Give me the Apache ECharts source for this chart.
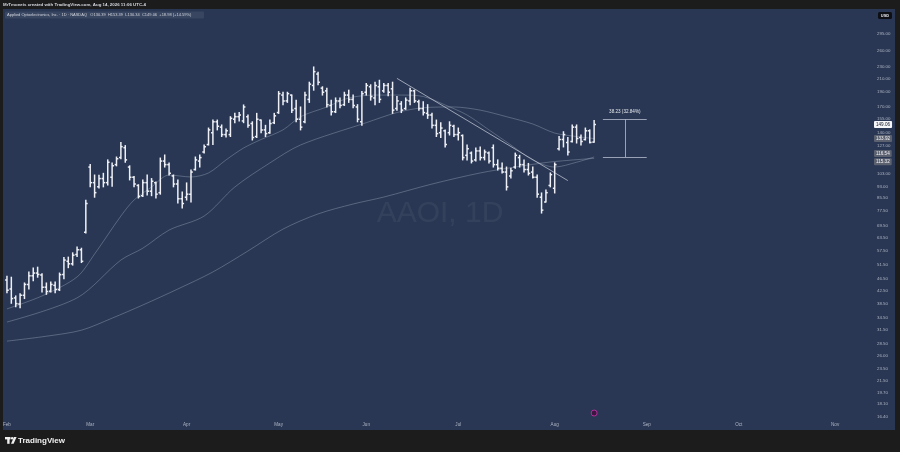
<!DOCTYPE html>
<html><head><meta charset="utf-8">
<script src="https://cdn.jsdelivr.net/npm/echarts@6/dist/echarts.min.js"></script>
<style>html,body{margin:0;padding:0;background:#1c1c1c;}#c{width:900px;height:452px;}</style>
</head><body><div id="c"></div>
<script>
// ---------- categories (NYSE trading days) ----------
const startDate = [2026, 1, 2];            // 2026-02-02
const categoryCount = 197;
const holidays = ['2026-02-16','2026-04-03','2026-05-25','2026-06-19','2026-07-03','2026-09-07'];
const monthNames = ['Jan','Feb','Mar','Apr','May','Jun','Jul','Aug','Sep','Oct','Nov','Dec'];

// ---------- OHLC values ----------
const opens  = [46.0,43.0,40.2,38.4,41.0,44.5,47.5,48.5,47.8,43.6,42.3,44.2,42.8,48.0,53.0,52.0,55.8,57.8,66.0,108.0,
  96.0,93.0,99.0,96.0,100.0,110.0,116.0,125.0,108.0,100.0,94.0,87.0,96.0,90.0,96.0,89.0,113.0,110.0,101.0,95.0,
  85.0,86.0,88.0,106.0,113.0,121.0,128.0,140.0,152.0,146.0,138.0,138.0,155.0,158.0,153.0,158.0,150.0,136.0,154.0,143.0,
  140.0,151.0,163.0,186.0,178.0,186.0,168.0,155.0,152.0,180.0,200.0,218.0,196.0,192.0,172.0,164.0,178.0,173.0,186.0,180.0,
  170.0,152.0,190.0,198.0,182.0,198.0,192.0,200.0,195.0,168.0,174.0,168.0,178.0,192.0,177.0,168.0,162.0,160.0,148.0,140.0,
  142.0,140.0,147.0,138.0,137.0,118.0,120.0,114.0,122.0,116.0,120.0,125.0,110.0,107.0,104.0,101.0,108.0,116.0,110.0,106.0,
  104.0,100.0,86.0,83.0,94.0,92.0,124.0,133.0,130.0,131.0,146.0,135.0,133.0,142.0,130.39];
const highs  = [47.3,47.0,40.8,41.5,45.0,48.9,50.4,50.7,48.2,45.0,45.3,45.3,48.5,54.5,54.7,56.5,59.0,58.5,84.0,110.0,
  101.7,101.5,103.0,114.0,111.4,116.5,130.0,127.0,109.0,100.5,94.5,98.0,101.7,99.0,96.5,115.6,118.3,111.4,101.7,98.0,
  89.4,95.8,105.6,116.5,118.3,127.6,145.0,154.0,154.0,148.4,144.0,158.0,162.0,163.0,172.6,160.0,152.0,162.0,154.0,148.0,
  154.0,162.0,191.0,190.0,190.0,186.0,179.0,170.0,190.0,205.0,230.0,221.0,198.0,196.0,179.0,182.0,182.0,190.0,193.0,186.0,
  173.0,191.0,203.0,201.0,205.0,208.0,203.0,203.0,205.0,184.0,177.0,182.0,196.0,193.0,179.0,177.0,173.0,162.0,154.0,151.0,
  143.0,152.0,148.0,145.0,137.6,127.6,121.0,124.7,125.7,122.8,121.0,127.6,114.0,111.4,108.0,107.0,120.0,118.0,114.0,111.0,
  108.0,101.7,88.8,90.8,103.3,111.4,136.0,141.0,135.0,148.4,148.4,137.6,145.0,143.0,153.39];
const lows   = [41.8,38.6,37.6,37.3,40.0,43.0,45.8,47.0,42.0,41.3,42.0,41.8,42.5,46.5,50.5,51.5,55.0,52.5,65.6,93.0,
  86.0,92.2,93.0,94.3,93.5,109.0,115.0,112.0,98.0,93.0,85.5,86.5,87.5,87.0,85.5,88.0,108.0,101.7,93.0,82.3,
  79.3,84.2,83.0,105.6,108.0,120.0,127.6,128.0,143.0,136.0,135.5,136.0,151.0,153.0,151.0,146.0,132.5,135.0,140.0,136.0,
  139.5,150.0,162.0,173.0,176.0,163.0,152.0,143.0,151.0,176.0,193.0,201.0,186.0,170.0,160.0,163.0,169.0,172.0,176.0,169.0,
  152.0,148.0,186.0,179.0,173.0,176.0,190.0,185.0,162.0,166.0,163.0,167.0,173.0,176.0,166.0,160.0,156.0,145.0,136.0,135.0,
  125.7,137.6,136.0,132.5,114.0,114.0,111.4,113.0,114.0,114.0,111.4,108.0,105.6,103.3,90.8,99.5,107.0,108.0,104.0,101.7,
  99.5,86.0,76.3,82.9,93.0,88.8,122.8,125.7,118.3,130.5,129.5,127.6,132.5,129.6,130.34];
const closes = [42.6,40.0,38.5,41.0,44.5,47.5,48.5,48.0,43.6,42.2,44.5,42.8,47.9,53.5,52.0,55.5,57.8,53.0,82.0,96.0,
  89.0,99.0,96.0,112.0,109.0,115.0,126.0,114.0,100.0,95.0,86.5,96.0,90.0,97.0,88.0,113.0,110.0,103.0,95.0,85.0,
  82.0,88.0,104.0,114.0,116.0,126.0,143.0,152.0,147.0,138.0,142.0,156.0,158.0,160.0,170.0,148.0,135.0,155.0,143.0,139.0,
  150.0,159.0,188.0,178.0,188.0,166.0,155.0,146.0,186.0,202.0,222.0,205.0,190.0,173.0,164.0,178.0,172.0,186.0,180.0,172.0,
  155.0,188.0,200.0,184.0,200.0,180.0,200.0,190.0,166.0,178.0,166.0,179.0,192.0,178.0,168.0,163.0,160.0,148.0,139.0,145.0,
  128.0,148.0,138.0,140.0,116.0,124.0,113.0,122.0,116.0,121.0,113.0,110.0,107.0,104.0,93.0,105.0,118.0,110.0,106.0,103.0,
  100.0,88.0,78.0,89.0,102.0,110.0,133.0,138.0,121.0,146.0,134.0,131.0,142.0,130.08,149.06];

// ---------- moving averages: [category index, price] ----------
const ma20 = [[0,37],[8,40.8],[16,47.1],[20,56],[26,74.6],[29,84.2],[33,92.9],[37,101.7],[42,100.2],[46,103.3],[50,114],
  [54,124.7],[58,133],[63,143],[67,158],[73,170],[78,182],[84,186],[90,186],[95,184],[100,172.6],[105,160],[110,143],
  [115,127.6],[120,113.9],[125,108],[130,112],[134,116.54]];
const ma50 = [[0,33.5],[16,40.2],[26,53.5],[31,58.5],[37,67.1],[45,74.6],[52,92.9],[60,111.4],[67,127.6],
  [82,151],[89,163],[95,169],[102,170],[108,166],[114,158],[120,149.5],[125,139.6],[130,136],[134,133.92]];
const ma200 = [[0,29.0],[9,30.1],[17,31.5],[24,34.5],[31,38.1],[39,43.0],[47,48.9],[55,57.3],[63,67.6],[71,75.8],
  [79,81.7],[86,86.1],[97,95.0],[108,103.3],[116,108.0],[124,112.2],[134,115.32]];
const trendLine = [[89,211],[128,97.5]];

// ---------- price axis labels / tags ----------
const priceTicks = [295,260,230,210,190,170,155,140,127,103,93,85.5,77.5,69.5,63.5,57.5,51.5,46.5,42.5,38.5,34.5,31.5,28.5,26,23.5,21.5,19.7,18.1,16.4];
const lastClose = 149.06;
const ma50Last = 133.92, ma20Last = 116.54, ma200Last = 115.32;
const measureLow = 116.41, measureHigh = 154.64, measureStart = 136, measureEnd = 146, measureMid = 141;
const measureText = '38.23 (32.84%)';
const eventIndex = 134, eventPrice = 16.85;
const yMin = 16.108, yMax = 356.3;

const titleTop = 'MrTmoneis created with TradingView.com, Aug 14, 2026 11:06 UTC-4';
const titleSymbol = 'Applied Optoelectronics, Inc. · 1D · NASDAQ   O130.39  H153.39  L130.34  C149.06  +18.98 (+14.59%)';
const watermark = 'AAOI, 1D';

// build trading-day categories
const dates = [];
{
  let d = new Date(Date.UTC(startDate[0], startDate[1], startDate[2]));
  while (dates.length < categoryCount) {
    const wd = d.getUTCDay();
    const iso = d.toISOString().slice(0,10);
    if (wd !== 0 && wd !== 6 && holidays.indexOf(iso) < 0) dates.push(iso);
    d = new Date(d.getTime() + 86400000);
  }
}
const monthStart = dates.map((s,i) => i === 0 || s.slice(5,7) !== dates[i-1].slice(5,7));

const ohlc = closes.map((c,i) => [i, opens[i], highs[i], lows[i], c]);

const BAR = '#eef0f5';
function renderBar(params, api) {
  const i = api.value(0);
  const o = api.coord([i, api.value(1)]);
  const h = api.coord([i, api.value(2)]);
  const l = api.coord([i, api.value(3)]);
  const c = api.coord([i, api.value(4)]);
  const w = params.coordSys.width / categoryCount * 0.42;
  const st = {stroke: BAR, lineWidth: 1.5};
  return {type:'group', children:[
    {type:'line', shape:{x1:h[0], y1:h[1]-0.5, x2:l[0], y2:l[1]+0.5}, style:st},
    {type:'line', shape:{x1:o[0]-w, y1:o[1], x2:o[0], y2:o[1]}, style:st},
    {type:'line', shape:{x1:c[0], y1:c[1], x2:c[0]+w, y2:c[1]}, style:st}
  ]};
}

const LBL = '#aeb4c2';
const MA_STYLE = {color:'rgba(175,185,205,0.36)', width:1};
const HIDDEN_LINE = {color:'rgba(0,0,0,0)', width:0.01, opacity:1};
const tagLabel = (bg, fg, va) => ({show:true, position:'end', distance:6, formatter: p => Number(p.value).toFixed(2),
  backgroundColor:bg, color:fg, fontSize:4.6, padding:[1,2,1,2], borderRadius:1, verticalAlign: va, fontFamily:'Liberation Sans'});

const option = {
  animation: false,
  backgroundColor: '#1c1c1c',
  grid: {left: 3, right: 32, top: 9, bottom: 33},
  xAxis: {
    type:'category', data: dates, boundaryGap: true,
    axisLine:{show:false}, axisTick:{show:false}, splitLine:{show:false},
    axisLabel:{interval:(idx) => monthStart[idx], formatter:(v) => monthNames[+v.slice(5,7)-1],
      color: LBL, fontSize: 4.6, margin: 3, fontFamily:'Liberation Sans'}
  },
  yAxis: {
    type:'log', logBase: 10, min: yMin, max: yMax, position:'right',
    axisLine:{show:false}, axisTick:{show:false}, axisLabel:{show:false}, splitLine:{show:false}
  },
  graphic: [
    {type:'rect', z:-10, shape:{x:3, y:9, width:892, height:421}, style:{fill:'#293754'}},
    {type:'text', z:-5, x:440, y:214, style:{text: watermark, fill:'rgba(255,255,255,0.055)', font:'30px "Liberation Sans"', align:'center', verticalAlign:'middle'}},
    {type:'text', z:50, x:3, y:4.5, style:{text: titleTop, fill:'#d6d9e0', font:'bold 4.4px "Liberation Sans"', verticalAlign:'middle'}},
    {type:'rect', z:49, shape:{x:5, y:11.5, width:199, height:7, r:1}, style:{fill:'rgba(255,255,255,0.08)'}},
    {type:'text', z:50, x:7, y:15, style:{text: titleSymbol, fill:'#d1d4dc', font:'4px "Liberation Sans"', verticalAlign:'middle'}},
    {type:'rect', z:49, shape:{x:878, y:12, width:14, height:7, r:1.5}, style:{fill:'#0d0f14'}},
    {type:'text', z:50, x:885, y:15.5, style:{text:'USD', fill:'#e6e8ee', font:'bold 4px "Liberation Sans"', align:'center', verticalAlign:'middle'}},
    {type:'rect', z:100, shape:{x:0, y:0, width:3, height:452}, style:{fill:'#1c1c1c'}},
    {type:'group', z:50, children:[
      {type:'rect', shape:{x:5, y:437, width:5.5, height:2.4}, style:{fill:'#f0f0f0'}},
      {type:'rect', shape:{x:7.2, y:437, width:2.4, height:6.8}, style:{fill:'#f0f0f0'}},
      {type:'circle', shape:{cx:12.2, cy:438.3, r:1.3}, style:{fill:'#f0f0f0'}},
      {type:'polygon', shape:{points:[[14,437],[16.6,437],[13.6,443.8],[11,443.8]]}, style:{fill:'#f0f0f0'}},
      {type:'text', x:18, y:440.5, style:{text:'TradingView', fill:'#f0f0f0', font:'bold 8px "Liberation Sans"', verticalAlign:'middle'}}
    ]}
  ],
  series: [
    {type:'line', name:'ma200', data: ma200, smooth:0.3, symbol:'none', silent:true, z:1, lineStyle: MA_STYLE},
    {type:'line', name:'ma50', data: ma50, smooth:0.3, symbol:'none', silent:true, z:1, lineStyle: MA_STYLE,
      markLine:{silent:true, symbol:['none','none'], animation:false,
        lineStyle: HIDDEN_LINE,
        label:{show:true, position:'end', distance:9, color:LBL, fontSize:4.4, fontFamily:'Liberation Sans',
          formatter: p => Number(p.value).toFixed(2)},
        data: priceTicks.map(v => ({yAxis: v, lineStyle: HIDDEN_LINE}))
          .concat([
            {yAxis: ma50Last, lineStyle: HIDDEN_LINE, label: tagLabel('#5c6170','#f2f3f6','middle')},
            {yAxis: ma20Last, lineStyle: HIDDEN_LINE, label: tagLabel('#5c6170','#f2f3f6','bottom')},
            {yAxis: ma200Last, lineStyle: HIDDEN_LINE, label: tagLabel('#5c6170','#f2f3f6','top')},
            {yAxis: lastClose, lineStyle: HIDDEN_LINE, label: tagLabel('#f4f6fa','#131722','middle')}
          ])
      },
      markPoint:{silent:true, animation:false, label:{show:false},
        data:[{coord:[eventIndex, eventPrice], symbol:'circle', symbolSize:6,
          itemStyle:{color:'#3a1640', borderColor:'#b3309c', borderWidth:1}}]}
    },
    {type:'line', name:'ma20', data: ma20, smooth:0.3, symbol:'none', silent:true, z:1, lineStyle: MA_STYLE},
    {type:'line', name:'trend', data: trendLine, symbol:'none', silent:true, z:1,
      lineStyle:{color:'rgba(205,210,222,0.7)', width:1},
      markLine:{silent:true, symbol:['none','none'], animation:false,
        lineStyle:{color:'rgba(190,198,215,0.75)', width:1, type:'solid'},
        label:{show:false},
        data:[
          [{coord:[measureStart, measureHigh], label:{show:true, position:'insideMiddleTop', distance:5, formatter: measureText,
             color:'#e6e8ee', fontSize:4.6, fontFamily:'Liberation Sans'}}, {coord:[measureEnd, measureHigh]}],
          [{coord:[measureStart, measureLow]}, {coord:[measureEnd, measureLow]}],
          [{coord:[measureMid, measureHigh]}, {coord:[measureMid, measureLow]}]
        ]}
    },
    {type:'custom', name:'AAOI', data: ohlc, renderItem: renderBar, encode:{x:0, y:[1,2,3,4]}, z:5, silent:true}
  ]
};
const chart = echarts.init(document.getElementById('c'));
chart.setOption(option);
</script>
</body></html>
